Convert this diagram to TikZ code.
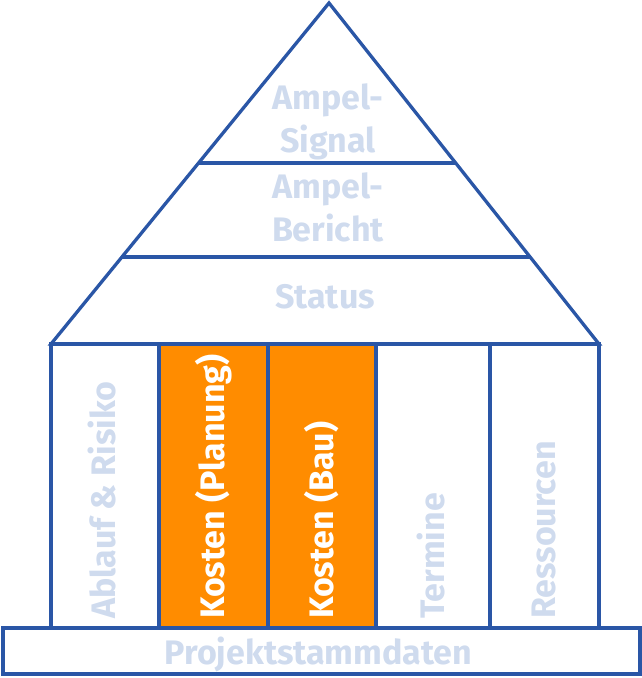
\documentclass[tikz,border=0pt]{standalone}
\usepackage{fontspec}
\setmainfont{Fira Sans}
\usetikzlibrary{calc}
\definecolor{frame}{HTML}{2A56A6}
\definecolor{pale}{HTML}{CFDBEE}
\definecolor{kosten}{HTML}{FF8C00}
\tikzset{
  outline/.style={draw=frame, line width=3.3pt, line join=miter},
  label/.style={inner sep=0pt, font=\fontsize{34}{43}\selectfont\bfseries, text=pale, align=center},
  pillar/.style={label, rotate=90, anchor=base west},
  hot/.style={text=white}
}
\begin{document}
\begin{tikzpicture}[x=1pt, y=-1pt]
  \useasboundingbox (0,0) rectangle (642,678);
  % key points of the roof
  \coordinate (apex) at (329,3);
  \coordinate (bl) at (51,344);
  \coordinate (br) at (599,344);
  % cost pillars
  \fill[kosten] (159,344) rectangle (376,628);
  % roof with its two bands
  \draw[outline] (bl) -- (apex) -- (br) -- cycle;
  \draw[outline] ($(apex)!0.469!(bl)$) -- ($(apex)!0.469!(br)$);
  \draw[outline] ($(apex)!0.745!(bl)$) -- ($(apex)!0.745!(br)$);
  % pillars
  \draw[outline] (51,344) rectangle (599,628);
  \foreach \xx in {159,268,376,490} \draw[outline] (\xx,344) -- (\xx,628);
  % foundation
  \draw[outline] (3,628) rectangle (640,674);
  % roof texts
  \node[label] (signal) at (328,122) {Ampel-\\Signal};
  \node[label] (bericht) at (328,207.5) {Ampel-\\Bericht};
  \node[label, anchor=base] (status) at (325,308) {Status};
  % pillar texts
  \node[pillar] (ablauf) at (115.5,619) {Ablauf \& Risiko};
  \node[pillar, hot] (kplan) at (224,619) {Kosten (Planung)};
  \node[pillar, hot] (kbau) at (333,619) {Kosten (Bau)};
  \node[pillar] (termine) at (444,619) {Termine};
  \node[pillar] (ressourcen) at (555,619) {Ressourcen};
  % foundation text
  \node[label, anchor=base] (stamm) at (318.5,664) {Projektstammdaten};
\end{tikzpicture}
\end{document}
